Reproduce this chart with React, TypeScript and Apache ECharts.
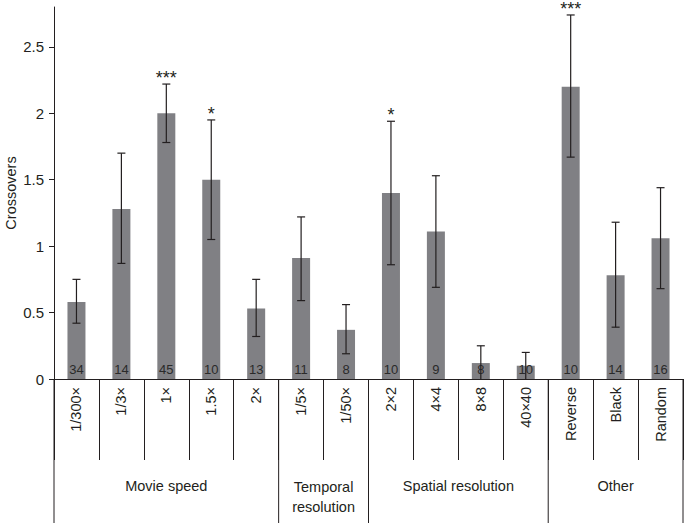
import React, { useEffect, useRef } from "react";
import * as echarts from "echarts";

const categories = ["1/300×", "1/3×", "1×", "1.5×", "2×", "1/5×", "1/50×", "2×2", "4×4", "8×8", "40×40", "Reverse", "Black", "Random"];
const meanValues = [0.58, 1.28, 2.0, 1.5, 0.53, 0.91, 0.37, 1.4, 1.11, 0.12, 0.1, 2.2, 0.78, 1.06];
const errLower = [0.42, 0.87, 1.78, 1.05, 0.32, 0.59, 0.19, 0.86, 0.69, 0.0, 0.0, 1.67, 0.39, 0.68];
const errUpper = [0.75, 1.7, 2.22, 1.95, 0.75, 1.22, 0.56, 1.94, 1.53, 0.25, 0.2, 2.74, 1.18, 1.44];
const nCounts = [34, 14, 45, 10, 13, 11, 8, 10, 9, 8, 10, 10, 14, 16];
const significance = ["", "", "***", "*", "", "", "", "*", "", "", "", "***", "", ""];
const groupNames = ["Movie speed", "Temporal\nresolution", "Spatial resolution", "Other"];
const groupRanges = [[0, 5], [5, 7], [7, 11], [11, 14]];
const yTicks = [0, 0.5, 1, 1.5, 2, 2.5];

const FONT = "'Liberation Sans', Arial, Helvetica, sans-serif";
const TEXT = "#231f20";
const LINE = "#231f20";

export default function App() {
  const ref = useRef<HTMLDivElement>(null);
  useEffect(() => {
    if (!ref.current) return;
    const chart = echarts.init(ref.current, null, { renderer: "svg" });
    const option: any = {
      animation: false,
      textStyle: { fontFamily: FONT },
      grid: { left: 54, right: 2, top: 7, bottom: 144, containLabel: false, outerBoundsMode: "none" },
      xAxis: {
        type: "category",
        data: categories,
        axisLine: { show: true, lineStyle: { color: LINE, width: 1 } },
        axisTick: { show: true, alignWithLabel: false, length: 81, lineStyle: { color: LINE, width: 1 } },
        axisLabel: { rotate: 90, fontSize: 14.5, color: TEXT, margin: 8, fontFamily: FONT, interval: 0 },
        splitLine: { show: false },
      },
      yAxis: {
        type: "value",
        min: 0,
        max: 2.8,
        interval: 0.5,
        name: "Crossovers",
        nameLocation: "middle",
        nameGap: 36,
        nameMoveOverlap: false,
        nameTextStyle: { fontSize: 14.5, color: TEXT, fontFamily: FONT },
        axisLine: { show: true, lineStyle: { color: LINE, width: 1 } },
        axisTick: { show: true, length: 5, customValues: yTicks, lineStyle: { color: LINE } },
        axisLabel: {
          fontSize: 15,
          color: TEXT,
          margin: 10,
          fontFamily: FONT,
          customValues: yTicks,
          formatter: (v: number) => String(v),
        },
        splitLine: { show: false },
      },
      series: [
        {
          type: "bar",
          data: meanValues,
          barWidth: 18,
          itemStyle: { color: "#808084" },
          label: {
            show: true,
            position: "insideBottom",
            distance: 3,
            fontSize: 13,
            color: "#2a2a2a",
            fontFamily: FONT,
            formatter: (p: any) => String(nCounts[p.dataIndex]),
          },
          z: 2,
        },
        {
          type: "custom",
          data: categories.map((_, i) => [i, errLower[i], errUpper[i]]),
          encode: { x: 0, y: [1, 2] },
          z: 5,
          renderItem: (params: any, api: any) => {
            const i = api.value(0);
            const lo = api.coord([i, api.value(1)]);
            const hi = api.coord([i, api.value(2)]);
            const cap = 4;
            const style = { stroke: LINE, lineWidth: 1.2 };
            const children: any[] = [
              { type: "line", shape: { x1: lo[0], y1: lo[1], x2: hi[0], y2: hi[1] }, style },
              { type: "line", shape: { x1: hi[0] - cap, y1: hi[1], x2: hi[0] + cap, y2: hi[1] }, style },
            ];
            if (api.value(1) > 0) {
              children.push({ type: "line", shape: { x1: lo[0] - cap, y1: lo[1], x2: lo[0] + cap, y2: lo[1] }, style });
            }
            const sig = significance[params.dataIndex];
            if (sig) {
              children.push({
                type: "text",
                style: {
                  text: sig,
                  x: hi[0],
                  y: hi[1] - 6,
                  align: "center",
                  verticalAlign: "middle",
                  fontSize: 18,
                  fontFamily: FONT,
                  fill: TEXT,
                },
              });
            }
            return { type: "group", children };
          },
        },
        {
          type: "custom",
          data: groupRanges.map((r) => [r[0], r[1] - 1]),
          encode: { x: [0, 1] },
          z: 5,
          renderItem: (params: any, api: any) => {
            const s = api.value(0);
            const e = api.value(1);
            const band = api.size([1, 0])[0];
            const ps = api.coord([s, 0]);
            const pe = api.coord([e, 0]);
            const xl = ps[0] - band / 2;
            const xr = pe[0] + band / 2;
            const y0 = ps[1];
            const style = { stroke: LINE, lineWidth: 1 };
            const name = groupNames[params.dataIndex];
            const twoLine = name.indexOf("\n") >= 0;
            const children: any[] = [
              { type: "line", shape: { x1: xl, y1: y0, x2: xl, y2: y0 + 150 }, style },
              {
                type: "text",
                style: {
                  text: name,
                  x: (xl + xr) / 2,
                  y: y0 + (twoLine ? 118 : 107),
                  align: "center",
                  verticalAlign: "middle",
                  fontSize: 14.5,
                  lineHeight: 20,
                  fontFamily: FONT,
                  fill: TEXT,
                },
              },
            ];
            if (params.dataIndex === groupRanges.length - 1) {
              children.push({ type: "line", shape: { x1: xr, y1: y0, x2: xr, y2: y0 + 150 }, style });
            }
            return { type: "group", children };
          },
        },
      ],
    };
    chart.setOption(option);
    return () => chart.dispose();
  }, []);
  return (
    <div
      ref={ref}
      style={{ position: "fixed", left: 0, top: 0, width: 685, height: 523, background: "#fff" }}
    />
  );
}
